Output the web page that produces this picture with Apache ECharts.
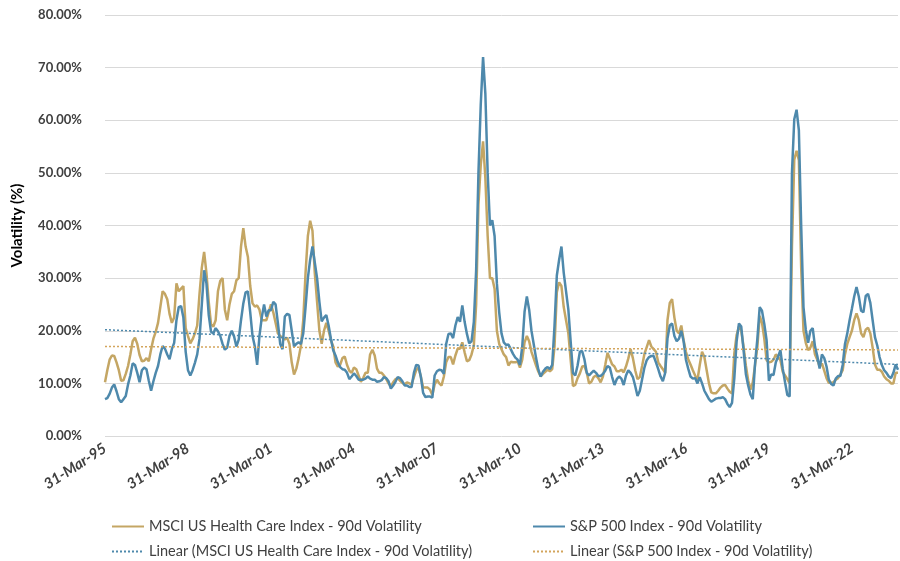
<!DOCTYPE html>
<html lang="en">
<head>
<meta charset="UTF-8">
<title>90d Volatility</title>
<script src="https://cdn.jsdelivr.net/npm/echarts@6.0.0/dist/echarts.min.js"></script>
<style>
    html, body { margin: 0; padding: 0; background: #fff; }
    #main { width: 900px; height: 561px; }
</style>
</head>
<body>
<div id="main"></div>
<script>
    // one point per month, first one on 31-Mar-95, values in %
    var msci = [
        10.2, 12.5, 14.5, 15.3, 15.2, 14.0, 12.5, 10.5, 10.6, 11.8, 13.3, 15.5,
        18.0, 18.7, 17.5, 15.4, 14.2, 14.3, 14.8, 14.2, 16.5, 18.5, 19.8, 21.5,
        24.5, 27.5, 27.0, 26.0, 23.2, 21.5, 22.5, 29.0, 27.5, 28.0, 28.5, 20.5,
        19.0, 17.6, 18.4, 19.5, 21.0, 27.0, 32.0, 35.0, 31.0, 25.5, 21.2, 20.8,
        22.0, 27.5, 29.5, 30.0, 24.0, 22.0, 25.0, 27.0, 27.5, 29.6, 30.0, 36.0,
        39.5, 36.0, 34.0, 28.5, 25.2, 24.6, 24.8, 24.0, 22.0, 22.0, 22.0, 23.5,
        25.0, 23.5, 21.5, 19.5, 19.0, 18.7, 18.3, 18.7, 17.5, 14.0, 11.7, 12.8,
        14.8, 17.2, 22.0, 31.0, 38.0, 40.9, 39.0, 31.0, 25.5, 20.0, 17.5, 20.0,
        21.5, 20.0, 18.2, 17.0, 14.0, 13.2, 13.5, 14.8, 15.1, 13.5, 12.4, 12.0,
        13.0, 12.7, 11.5, 10.3, 11.0, 12.0, 12.0, 15.5, 16.4, 15.3, 12.8, 12.0,
        12.0, 11.5, 10.8, 10.0, 9.5, 10.2, 10.8, 11.0, 10.5, 10.1, 9.8, 10.2,
        10.0, 9.8, 11.2, 12.5, 13.0, 11.3, 9.2, 9.2, 9.2, 8.8, 7.8, 9.8,
        10.7, 10.0, 9.6, 11.3, 14.0, 15.0, 15.0, 13.6, 15.3, 16.6, 16.6, 17.8,
        15.9, 14.2, 14.4, 15.5, 17.2, 25.0, 44.0, 51.5, 56.0, 49.0, 38.0, 30.0,
        30.0, 28.0, 20.0, 17.5, 16.5, 15.5, 15.0, 13.4, 14.1, 14.0, 14.0, 14.2,
        13.0, 14.5, 17.8, 19.0, 18.0, 16.0, 14.7, 13.4, 12.2, 11.3, 11.8, 12.2,
        12.6, 12.3, 12.7, 17.0, 27.3, 29.2, 28.5, 24.5, 22.0, 19.5, 14.5, 9.5,
        9.7, 11.0, 11.9, 13.2, 13.3, 12.0, 10.0, 10.3, 11.2, 11.5, 11.0, 10.2,
        11.3, 13.5, 15.8, 14.7, 13.6, 13.2, 12.3, 12.3, 12.6, 12.1, 13.2, 14.7,
        16.5, 14.8, 12.5, 10.8, 11.2, 13.3, 15.6, 16.9, 18.2, 17.0, 16.5, 16.0,
        14.0, 13.3, 12.7, 12.0, 22.0, 25.3, 26.0, 22.5, 20.0, 19.5, 21.0, 18.2,
        16.0, 14.6, 13.6, 12.5, 11.5, 10.6, 13.5, 16.0, 15.0, 12.5, 10.0, 8.3,
        8.1, 8.1, 8.6, 9.2, 9.6, 9.7, 9.0, 8.4, 8.1, 15.7, 19.2, 20.8,
        20.0, 17.0, 13.4, 10.6, 8.8, 10.2, 13.5, 17.0, 22.8, 21.5, 18.5, 14.4,
        14.0, 14.1, 14.5, 15.5, 15.0, 14.4, 12.2, 11.5, 10.8, 10.0, 36.0, 52.5,
        54.2, 52.4, 32.0, 20.0, 17.7, 16.3, 16.8, 18.0, 15.5, 14.5, 13.2, 13.8,
        12.4, 11.0, 10.1, 10.1, 10.2, 10.7, 11.0, 11.7, 12.5, 15.5, 17.5, 18.8,
        20.0, 22.0, 23.3, 22.0, 19.5, 18.8, 20.2, 20.6, 19.5, 16.8, 13.6, 12.6,
        12.6, 12.2, 11.3, 10.8, 10.5, 10.0, 10.0, 12.0, 12.0
    ];
    var sp500 = [
        7.0, 7.2, 8.0, 9.2, 9.8, 8.5, 7.0, 6.4, 7.0, 7.6, 9.8, 11.5,
        13.8, 13.5, 12.0, 10.2, 12.5, 13.0, 12.7, 10.5, 8.6, 10.4, 12.0, 13.3,
        15.5, 17.1, 16.6, 15.5, 14.6, 16.5, 17.7, 22.0, 24.5, 24.7, 22.5, 16.0,
        12.5, 11.5, 12.5, 13.9, 15.5, 18.5, 25.0, 31.5, 29.0, 23.0, 19.8, 19.5,
        20.5, 19.9, 19.0, 17.5, 16.4, 16.8, 19.0, 20.0, 18.9, 17.0, 18.3, 22.0,
        25.2, 27.3, 27.5, 23.5, 19.0, 17.0, 13.5, 19.0, 22.5, 25.0, 22.7, 23.9,
        23.9, 25.5, 25.0, 21.5, 17.5, 16.5, 22.7, 23.2, 23.0, 20.0, 17.0, 17.5,
        17.8, 17.5, 19.5, 24.5, 30.0, 33.5, 36.0, 33.0, 30.0, 25.5, 21.8, 22.5,
        23.0, 21.0, 18.5, 16.3, 15.3, 14.0, 13.1, 12.7, 12.6, 12.0, 10.8, 11.3,
        11.9, 11.4, 10.7, 10.7, 10.7, 10.9, 11.3, 10.9, 10.7, 10.7, 10.3, 10.4,
        10.6, 11.2, 11.0, 10.4, 9.0, 9.6, 10.3, 11.2, 11.0, 10.4, 9.6, 9.6,
        9.3, 9.3, 12.0, 13.5, 13.4, 11.3, 8.2, 7.4, 7.5, 7.5, 7.3, 11.5,
        12.3, 12.6, 12.5, 11.8, 17.5, 19.4, 19.5, 18.6, 21.0, 22.6, 21.7, 24.8,
        21.7, 19.4, 17.6, 18.0, 21.7, 31.5, 50.0, 63.0, 72.0, 65.0, 50.0, 40.0,
        41.0, 38.0, 29.0, 23.5, 19.5, 17.8, 17.3, 17.4, 16.5, 15.6, 14.9, 14.5,
        13.5, 17.0, 23.6, 26.5, 24.0, 20.0, 17.4, 14.8, 12.6, 11.3, 12.2, 12.8,
        13.1, 12.7, 13.5, 21.0, 30.5, 33.5, 36.0, 31.0, 27.5, 24.0, 18.0, 12.0,
        11.5, 13.4, 16.0, 16.1, 14.5, 12.0, 11.5, 12.0, 12.4, 12.0, 11.4, 11.4,
        11.8, 12.4, 13.3, 13.0, 11.2, 9.7, 10.8, 11.3, 10.9, 9.7, 11.5, 12.5,
        12.0, 11.2, 9.5, 7.6, 8.6, 10.8, 13.0, 14.4, 15.0, 15.2, 15.2, 14.0,
        12.7, 11.3, 10.4, 12.0, 18.5, 21.0, 21.4, 19.0, 18.0, 18.5, 20.0, 18.0,
        14.5, 12.8, 11.3, 10.9, 11.0, 10.0, 11.2, 10.0, 8.6, 7.8, 7.0, 6.5,
        6.8, 7.1, 7.2, 7.2, 7.4, 7.0, 6.1, 5.5, 6.3, 11.0, 18.0, 21.4,
        20.8, 16.3, 11.8, 9.6, 7.9, 7.0, 13.8, 18.5, 24.5, 23.8, 21.3, 18.2,
        10.5, 11.7, 11.6, 14.0, 15.1, 16.3, 12.8, 10.2, 7.8, 7.5, 50.0, 60.2,
        62.0, 58.1, 40.0, 24.5, 20.2, 17.7, 20.0, 20.5, 17.0, 15.2, 12.8, 15.5,
        14.8, 13.2, 10.7, 9.9, 9.6, 10.9, 11.4, 11.4, 13.5, 17.5, 19.5, 22.0,
        24.2, 26.5, 28.3, 26.5, 23.8, 23.5, 26.6, 27.0, 25.3, 22.0, 18.8, 17.2,
        15.0, 13.5, 12.5, 12.0, 11.3, 11.0, 12.0, 13.6, 12.6
    ];
    // linear trend lines, value at first and last month
    var msciTrend = [20.2, 13.6];
    var spTrend = [17.0, 16.35];
    var tickLabels = ['31-Mar-95', '31-Mar-98', '31-Mar-01', '31-Mar-04', '31-Mar-07',
        '31-Mar-10', '31-Mar-13', '31-Mar-16', '31-Mar-19', '31-Mar-22'];

    var names = [
        'MSCI US Health Care Index - 90d Volatility',
        'S&P 500 Index - 90d Volatility',
        'Linear (MSCI US Health Care Index - 90d Volatility)',
        'Linear (S&P 500 Index - 90d Volatility)'
    ];
    var gold = '#C4A664';
    var blue = '#4E89AC';
    var lastX = (msci.length - 1) / 12;

    function toPoints(arr) {
        return arr.map(function (v, i) { return [i / 12, v]; });
    }

    function legendAt(name, left, top) {
        return {
            data: [name], left: left, top: top,
            itemWidth: 32, itemHeight: 14, itemGap: 0,
            itemStyle: { color: 'rgba(0,0,0,0)', borderWidth: 0 },
            textStyle: { fontFamily: 'Lato', fontSize: 14.5, color: '#404040' },
            selectedMode: false
        };
    }

    var chart = echarts.init(document.getElementById('main'));
    chart.setOption({
        animation: false,
        backgroundColor: '#fff',
        grid: { left: 105, right: 2, top: 15, bottom: 125 },
        legend: [
            legendAt(names[0], 106, 514),
            legendAt(names[1], 527, 514),
            legendAt(names[2], 106, 539),
            legendAt(names[3], 527, 539)
        ],
        xAxis: {
            type: 'value', min: 0, max: lastX, interval: 3,
            axisLine: { show: false }, axisTick: { show: false },
            splitLine: { show: false },
            axisLabel: {
                rotate: 33, margin: 11, showMaxLabel: false,
                fontFamily: 'Lato', fontSize: 15, fontWeight: 'bold', fontStyle: 'italic',
                color: '#404040',
                formatter: function (v) {
                    var k = Math.round(v / 3);
                    return Math.abs(v - k * 3) < 1e-6 && tickLabels[k] ? tickLabels[k] : '';
                }
            }
        },
        yAxis: {
            type: 'value', min: 0, max: 80, interval: 10,
            name: 'Volatility (%)', nameLocation: 'middle', nameGap: 80,
            nameTextStyle: { fontFamily: 'Lato', fontSize: 15, fontWeight: 'bold', color: '#000' },
            axisLine: { show: false }, axisTick: { show: false },
            splitLine: { lineStyle: { color: '#D9D9D9', width: 1 } },
            axisLabel: {
                margin: 23, fontFamily: 'Lato', fontSize: 13, fontWeight: 'bold', color: '#404040',
                formatter: function (v) { return v.toFixed(2) + '%'; }
            }
        },
        series: [
            {
                name: names[0], type: 'line', symbol: 'none', data: toPoints(msci),
                lineStyle: { color: gold, width: 2.5 }, itemStyle: { color: gold }
            },
            {
                name: names[1], type: 'line', symbol: 'none', data: toPoints(sp500),
                lineStyle: { color: blue, width: 2.5 }, itemStyle: { color: blue }
            },
            {
                name: names[2], type: 'line', symbol: 'none',
                data: [[0, msciTrend[0]], [lastX, msciTrend[1]]],
                lineStyle: { color: '#4E89AC', width: 1.5, type: [2, 2] }, itemStyle: { color: '#4E89AC' }
            },
            {
                name: names[3], type: 'line', symbol: 'none',
                data: [[0, spTrend[0]], [lastX, spTrend[1]]],
                lineStyle: { color: '#D3A55C', width: 1.5, type: [2, 2] }, itemStyle: { color: '#D3A55C' }
            }
        ]
    });
</script>
</body>
</html>
